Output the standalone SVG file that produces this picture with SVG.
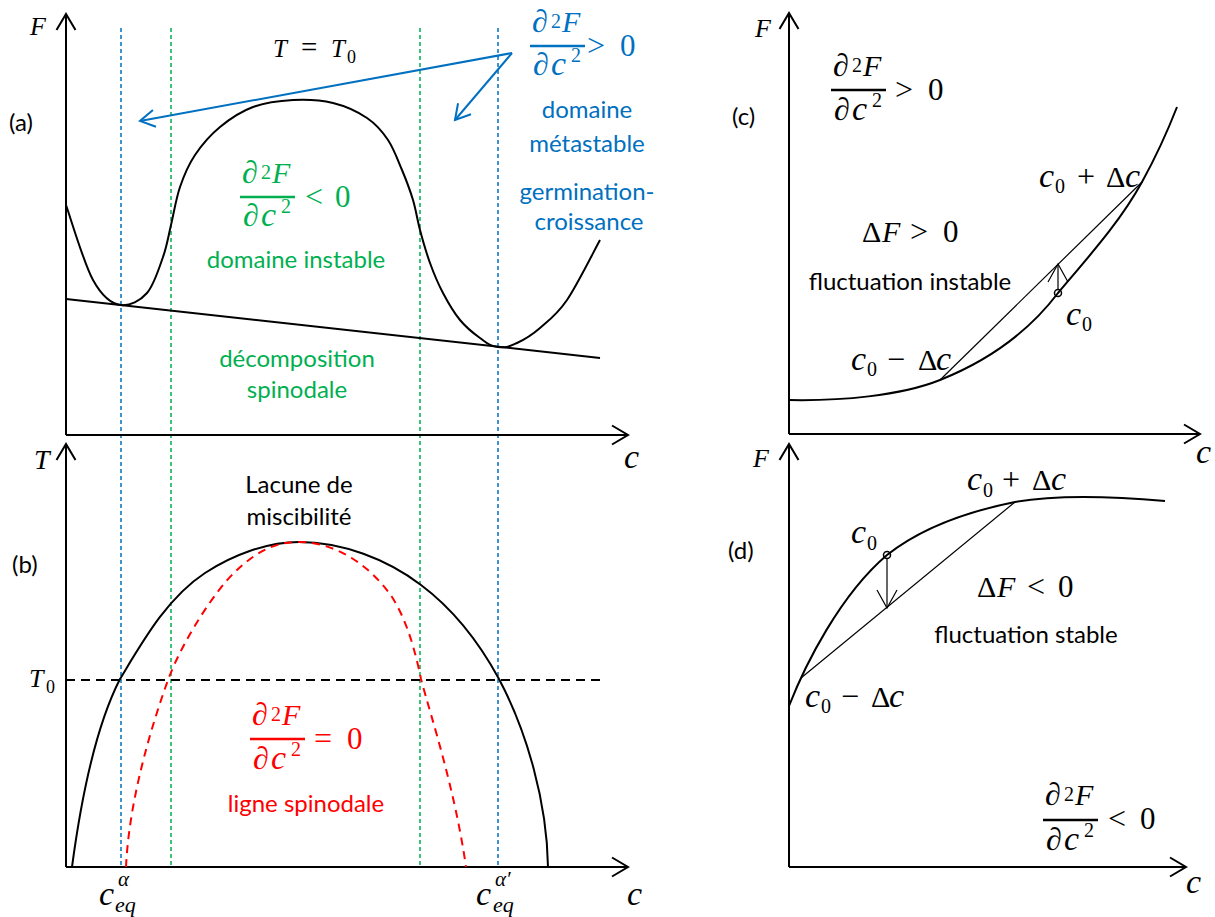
<svg xmlns="http://www.w3.org/2000/svg" width="1215" height="917" viewBox="0 0 1215 917">
<style>
.ax{stroke:#000;stroke-width:2;fill:none}
.crv{stroke:#000;stroke-width:2;fill:none}
.thin{stroke:#000;stroke-width:1.2;fill:none}
.vb{stroke:#0070C0;stroke-width:1.5;stroke-dasharray:4 3;fill:none}
.vg{stroke:#00B050;stroke-width:1.5;stroke-dasharray:4 3;fill:none}
.lbl{font-family:Lato,"Liberation Sans",sans-serif;font-size:24px}
.mid{text-anchor:middle}
.m{font-family:"Liberation Serif","DejaVu Serif",serif;font-size:30px}
.i{font-style:italic}
.d{font-style:italic;font-size:32px}
.v{font-style:italic;font-size:30px}
.cv{font-style:italic;font-size:34px}
.r{font-size:32px}
.n{font-size:31px}
.D{font-size:30px}
.s{font-size:20px}
.sub{font-size:20px}
.blue{fill:#0070C0}
.green{fill:#00B050}
.red{fill:#FF0000}
</style>
<defs>
<marker id="ah" markerUnits="userSpaceOnUse" markerWidth="24" markerHeight="24" viewBox="-20 -12 24 24" refX="0" refY="0" orient="auto" overflow="visible">
<path d="M-16,-9.5 L0,0 L-16,9.5" fill="none" stroke="#000" stroke-width="2"/>
</marker>
<marker id="ahb" markerUnits="userSpaceOnUse" markerWidth="24" markerHeight="24" viewBox="-20 -12 24 24" refX="0" refY="0" orient="auto" overflow="visible">
<path d="M-14.7,-8.5 L0,0 L-14.7,8.5" fill="none" stroke="#0070C0" stroke-width="2"/>
</marker>
<marker id="ahs" markerUnits="userSpaceOnUse" markerWidth="24" markerHeight="24" viewBox="-20 -12 24 24" refX="0" refY="0" orient="auto" overflow="visible">
<path d="M-18,-10 L0,0 L-18,10" fill="none" stroke="#000" stroke-width="1.2"/>
</marker>
</defs>
<rect width="1215" height="917" fill="#fff"/>

<g id="guides">
<line class="vb" x1="121" y1="28" x2="121" y2="867"/>
<line class="vg" x1="171" y1="28" x2="171" y2="867"/>
<line class="vg" x1="420" y1="28" x2="420" y2="867"/>
<line class="vb" x1="498" y1="28" x2="498" y2="867"/>
</g>

<g id="panel-a">
<path class="ax" d="M66,435 L66,14" marker-end="url(#ah)"/>
<path class="ax" d="M66,435 L628,435" marker-end="url(#ah)"/>
<line class="crv" x1="66" y1="299" x2="600" y2="358"/>
<path class="crv" d="M66,205 C70.5,217.5 83.8,263.3 93,280 C102.2,296.7 112,304 121,305 C130,306 140,301 147,293 C154,285 159,268.3 163,257 C167,245.7 168.2,236.7 171,225 C173.8,213.3 176,198.7 180,187 C184,175.3 188.3,165 195,155 C201.7,145 210.3,135 220,127 C229.7,119 240.8,111.5 253,107 C265.2,102.5 279.7,100.7 293,100 C306.3,99.3 320.7,100 333,103 C345.3,106 357.8,111.8 367,118 C376.2,124.2 382.2,131.3 388,140 C393.8,148.7 397.8,160 402,170 C406.2,180 410,190 413,200 C416,210 417.2,219.5 420,230 C422.8,240.5 426.2,252.5 430,263 C433.8,273.5 438,283.5 443,293 C448,302.5 453.8,312.5 460,320 C466.2,327.5 473.7,333.5 480,338 C486.3,342.5 489,346 498,347 C507,348 510,346.2 517,343 C524,339.8 531.7,335.2 540,328 C548.3,320.8 557,314.7 567,300 C577,285.3 594.5,250 600,240"/>
<text class="m i" x="30" y="35" style="font-size:26px">F</text>
<text class="m i" x="624" y="468" style="font-size:34px">c</text>
<text class="lbl" x="9" y="131">(a)</text>
<text class="m"><tspan class="i" x="273" y="57" style="font-size:25px">T</tspan><tspan x="301" y="57" style="font-size:29px">=</tspan><tspan class="i" x="331" y="57" style="font-size:25px">T</tspan><tspan x="347" y="63" style="font-size:18px">0</tspan></text>
</g>

<g id="label-metastable">
<path d="M512,53 L140,121" stroke="#0070C0" stroke-width="2" fill="none" marker-end="url(#ahb)"/>
<path d="M512,53 L455,120" stroke="#0070C0" stroke-width="2" fill="none" marker-end="url(#ahb)"/>
<text class="m blue"><tspan class="d" x="532" y="32">∂</tspan><tspan class="s" x="551" y="28">2</tspan><tspan class="v" x="562" y="32">F</tspan></text>
<line x1="530" y1="46" x2="585" y2="46" stroke="#0070C0" stroke-width="2.5"/>
<text class="m blue"><tspan class="d" x="533" y="75">∂</tspan><tspan class="cv" x="551" y="75">c</tspan><tspan class="s" x="571" y="62">2</tspan></text>
<text class="m blue"><tspan class="r" x="587" y="56">&gt;</tspan><tspan class="n" x="620" y="56">0</tspan></text>
<text class="lbl blue mid" x="587" y="118">domaine</text>
<text class="lbl blue mid" x="587" y="152">métastable</text>
<text class="lbl blue mid" x="587" y="200">germination-</text>
<text class="lbl blue mid" x="589" y="230">croissance</text>
</g>

<g id="label-instable">
<text class="m green"><tspan class="d" x="242" y="183">∂</tspan><tspan class="s" x="261" y="179">2</tspan><tspan class="v" x="272" y="183">F</tspan></text>
<line x1="240" y1="197" x2="295" y2="197" stroke="#00B050" stroke-width="2.5"/>
<text class="m green"><tspan class="d" x="243" y="226">∂</tspan><tspan class="cv" x="261" y="226">c</tspan><tspan class="s" x="281" y="213">2</tspan></text>
<text class="m green"><tspan class="r" x="305" y="207">&lt;</tspan><tspan class="n" x="335" y="207">0</tspan></text>
<text class="lbl green mid" x="296" y="268">domaine instable</text>
<text class="lbl green mid" x="297" y="367">décomposition</text>
<text class="lbl green mid" x="297" y="398">spinodale</text>
</g>

<g id="panel-b">
<path class="ax" d="M66,867 L66,444" marker-end="url(#ah)"/>
<path class="ax" d="M66,867 L628,867" marker-end="url(#ah)"/>
<line x1="66" y1="680" x2="600" y2="680" stroke="#000" stroke-width="1.8" stroke-dasharray="9 6"/>
<path class="crv" d="M72,867 C82,792 98,722 120,679 C143,641 167,598 205,573 C232.5,555 267,542 299,542 C342,542 387,559 421,585 C453,609 480,644 499,679 C527,732 547,802 548,867"/>
<path d="M126,867 C129,802 150,730 168,680 C182,642 215,590 237,570 C259,549.5 277,542 299,542 C335,542 370,565 392,597 C408,622 416,655 421,679 C432,720 455,790 466,867" fill="none" stroke="#FF0000" stroke-width="2" stroke-dasharray="8 6"/>
<text class="m i" x="34" y="469" style="font-size:28px">T</text>
<text class="m i" x="627" y="905" style="font-size:34px">c</text>
<text class="lbl" x="12" y="573">(b)</text>
<text class="m"><tspan class="i" x="29" y="687" style="font-size:26px">T</tspan><tspan x="46" y="693" style="font-size:18px">0</tspan></text>
<text class="lbl mid" x="299" y="493">Lacune de</text>
<text class="lbl mid" x="299" y="525">miscibilité</text>
<text class="m i"><tspan x="99" y="905" style="font-size:34px">c</tspan><tspan x="118" y="886" style="font-size:21px">α</tspan></text>
<text class="m i" x="115" y="912" style="font-size:22px">eq</text>
<text class="m i"><tspan x="476" y="905" style="font-size:34px">c</tspan><tspan x="495" y="886" style="font-size:21px">α′</tspan></text>
<text class="m i" x="493" y="912" style="font-size:22px">eq</text>
</g>

<g id="label-spinodale">
<text class="m red"><tspan class="d" x="252" y="725">∂</tspan><tspan class="s" x="271" y="721">2</tspan><tspan class="v" x="282" y="725">F</tspan></text>
<line x1="250" y1="739" x2="305" y2="739" stroke="#FF0000" stroke-width="2.5"/>
<text class="m red"><tspan class="d" x="253" y="769">∂</tspan><tspan class="cv" x="271" y="769">c</tspan><tspan class="s" x="291" y="756">2</tspan></text>
<text class="m red"><tspan class="r" x="314" y="749">=</tspan><tspan class="n" x="347" y="749">0</tspan></text>
<text class="lbl red mid" x="306" y="812">ligne spinodale</text>
</g>

<g id="panel-c">
<path class="ax" d="M789,434 L789,13" marker-end="url(#ah)"/>
<path class="ax" d="M789,434 L1200,434" marker-end="url(#ah)"/>
<path class="crv" d="M789,400 C840,401 900,396 940,380 C990,360 1030,330 1058,293 C1090,255 1120,222 1142,182 C1158,153 1168,130 1177,107"/>
<line class="thin" x1="940" y1="380" x2="1142" y2="182"/>
<path class="thin" d="M1058,289.5 L1058,264" marker-end="url(#ahs)"/>
<circle cx="1058" cy="293" r="3.5" fill="none" stroke="#000" stroke-width="1.5"/>
<text class="m i" x="755" y="37" style="font-size:26px">F</text>
<text class="m i" x="1196" y="463" style="font-size:34px">c</text>
<text class="lbl" x="732" y="125">(c)</text>
<text class="m"><tspan class="d" x="833" y="76">∂</tspan><tspan class="s" x="852" y="72">2</tspan><tspan class="v" x="863" y="76">F</tspan></text>
<line x1="831" y1="90" x2="886" y2="90" stroke="#000" stroke-width="2.5"/>
<text class="m"><tspan class="d" x="834" y="120">∂</tspan><tspan class="cv" x="852" y="120">c</tspan><tspan class="s" x="872" y="107">2</tspan></text>
<text class="m"><tspan class="r" x="895" y="100">&gt;</tspan><tspan class="n" x="928" y="100">0</tspan></text>
<text class="m"><tspan class="D" x="862" y="242">Δ</tspan><tspan class="v" x="882" y="242">F</tspan><tspan class="r" x="910" y="242">&gt;</tspan><tspan class="n" x="943" y="242">0</tspan></text>
<text class="lbl mid" x="910" y="290">fluctuation instable</text>
<text class="m"><tspan class="cv" x="1039" y="187">c</tspan><tspan class="sub" x="1055" y="193">0</tspan><tspan class="r" x="1077" y="187">+</tspan><tspan class="D" x="1106" y="187">Δ</tspan><tspan class="cv" x="1125" y="187">c</tspan></text>
<text class="m"><tspan class="cv" x="1066" y="325">c</tspan><tspan class="sub" x="1082" y="331">0</tspan></text>
<text class="m"><tspan class="cv" x="851" y="370">c</tspan><tspan class="sub" x="867" y="376">0</tspan><tspan class="r" x="887" y="370">−</tspan><tspan class="D" x="918" y="370">Δ</tspan><tspan class="cv" x="936" y="370">c</tspan></text>
</g>

<g id="panel-d">
<path class="ax" d="M789,867 L789,444" marker-end="url(#ah)"/>
<path class="ax" d="M789,867 L1186,867" marker-end="url(#ah)"/>
<path class="crv" d="M789,706 C805,665 840,595 887,555 C925,525 975,510 1015,502 C1060,494 1120,497 1165,501"/>
<line class="thin" x1="801" y1="678" x2="1015" y2="502"/>
<path class="thin" d="M887,558.5 L887,608" marker-end="url(#ahs)"/>
<circle cx="887" cy="555" r="3.5" fill="none" stroke="#000" stroke-width="1.5"/>
<text class="m i" x="753" y="467" style="font-size:26px">F</text>
<text class="m i" x="1186" y="893" style="font-size:34px">c</text>
<text class="lbl" x="728" y="559">(d)</text>
<text class="m"><tspan class="cv" x="967" y="490">c</tspan><tspan class="sub" x="983" y="497">0</tspan><tspan class="r" x="1002" y="490">+</tspan><tspan class="D" x="1032" y="490">Δ</tspan><tspan class="cv" x="1051" y="490">c</tspan></text>
<text class="m"><tspan class="cv" x="851" y="543">c</tspan><tspan class="sub" x="867" y="550">0</tspan></text>
<text class="m"><tspan class="D" x="977" y="597">Δ</tspan><tspan class="v" x="997" y="597">F</tspan><tspan class="r" x="1027" y="597">&lt;</tspan><tspan class="n" x="1058" y="597">0</tspan></text>
<text class="lbl mid" x="1026" y="643">fluctuation stable</text>
<text class="m"><tspan class="cv" x="805" y="707">c</tspan><tspan class="sub" x="821" y="713">0</tspan><tspan class="r" x="841" y="707">−</tspan><tspan class="D" x="871" y="707">Δ</tspan><tspan class="cv" x="889" y="707">c</tspan></text>
<text class="m"><tspan class="d" x="1045" y="805">∂</tspan><tspan class="s" x="1064" y="801">2</tspan><tspan class="v" x="1075" y="805">F</tspan></text>
<line x1="1043" y1="820" x2="1098" y2="820" stroke="#000" stroke-width="2.5"/>
<text class="m"><tspan class="d" x="1046" y="850">∂</tspan><tspan class="cv" x="1064" y="850">c</tspan><tspan class="s" x="1084" y="837">2</tspan></text>
<text class="m"><tspan class="r" x="1108" y="829">&lt;</tspan><tspan class="n" x="1140" y="829">0</tspan></text>
</g>
</svg>
